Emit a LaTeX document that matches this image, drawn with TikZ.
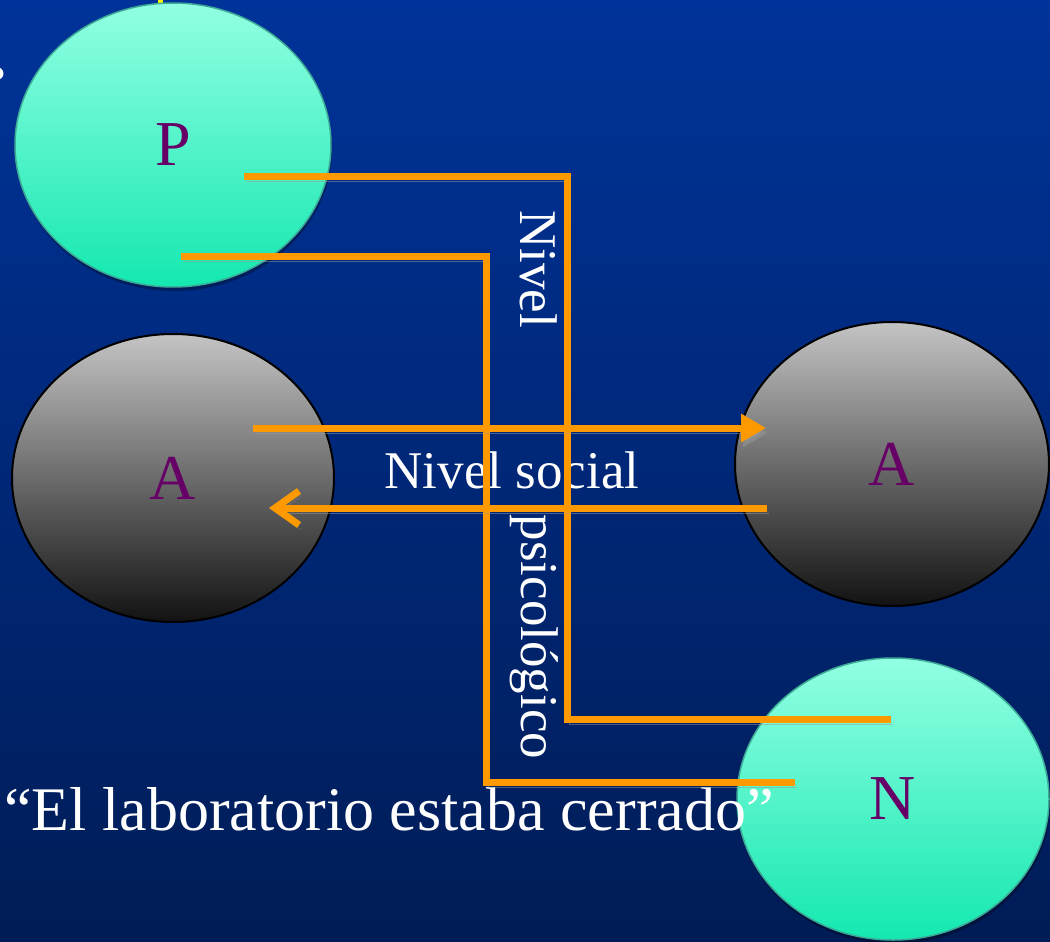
\documentclass[tikz,border=0pt]{standalone}
\usepackage{fontspec}
\setmainfont{Liberation Serif}
\usepackage{tikz}
\usetikzlibrary{arrows.meta,calc,positioning,shapes.geometric}
\usepackage{xcolor}
\definecolor{deepblue}{HTML}{003399}
\definecolor{nightblue}{HTML}{001C56}
\definecolor{mintlight}{HTML}{92FFE2}
\definecolor{mintdark}{HTML}{14E8B0}
\definecolor{mintedge}{HTML}{3CAA96}
\definecolor{greylight}{HTML}{C4C4C4}
\definecolor{greydark}{HTML}{121212}
\definecolor{plum}{HTML}{660066}
\definecolor{tangerine}{HTML}{FF9900}
\tikzset{mintdisk/.style={ellipse,draw=mintedge,line width=1.5pt,top color=mintlight,bottom color=mintdark,text=plum,inner sep=0pt,font=\fontsize{64}{64}\selectfont,preaction={fill=black,opacity=.3,transform canvas={shift={(1pt,-4pt)}}}},greydisk/.style={ellipse,draw=black,line width=2pt,top color=greylight,bottom color=greydark,text=plum,inner sep=0pt,font=\fontsize{64}{64}\selectfont},orangeline/.style={draw=tangerine,line width=7pt,preaction={draw=gray!80,opacity=.5,transform canvas={shift={(2pt,-5pt)}}}},slidetext/.style={text=white,inner sep=0pt,font=\fontsize{53}{53}\selectfont}}

\begin{document}
\begin{tikzpicture}[x=1pt,y=-1pt]
\useasboundingbox (0,0) rectangle (1050,942);
\fill[top color=deepblue,bottom color=nightblue] (0,0) rectangle (1050,942);
\fill[yellow] (158,-1) rectangle (163,5);
\fill[white] (-3.5,73.5) ellipse (7 and 6.5);
\node[mintdisk,minimum width=316pt,minimum height=284pt] (p) at (173,145) {P};
\node[greydisk,minimum width=322pt,minimum height=288pt] (al) at (173,478) {A};
\node[greydisk,minimum width=314pt,minimum height=284pt] (ar) at (892,464) {A};
\node[mintdisk,minimum width=312pt,minimum height=282pt] (n) at (893,799) {N};
\node[slidetext,anchor=base west,font=\fontsize{62}{62}\selectfont] (frase) at (4,830) {“El laboratorio estaba cerrado”};
\node[slidetext] (social) at (512,470) {Nivel social};
\node[slidetext,rotate=-90] (nivel) at (539,269) {Nivel};
\node[slidetext,rotate=-90] (psico) at (534,637) {psicológico};
\coordinate (pa) at ([shift={(71,31.5)}]p.center);
\coordinate (pb) at ([shift={(8,111.5)}]p.center);
\coordinate (na) at ([shift={(-2,-80)}]n.center);
\coordinate (nb) at ([shift={(-98,-17)}]n.center);
\draw[orangeline] (pa) -| ($(na)+(-324,0)$) -- (na);
\draw[orangeline] (pb) -| ($(nb)+(-309,0)$) -- (nb);
\draw[orangeline,-{Triangle[length=25pt,width=27pt]}] ([shift={(80,-50)}]al.center) -- ([shift={(-126,-36)}]ar.center);
\draw[orangeline,-{Straight Barb[length=24pt,width=34pt]}] ([shift={(-125,44)}]ar.center) -- ([shift={(96,30)}]al.center);
\end{tikzpicture}
\end{document}
